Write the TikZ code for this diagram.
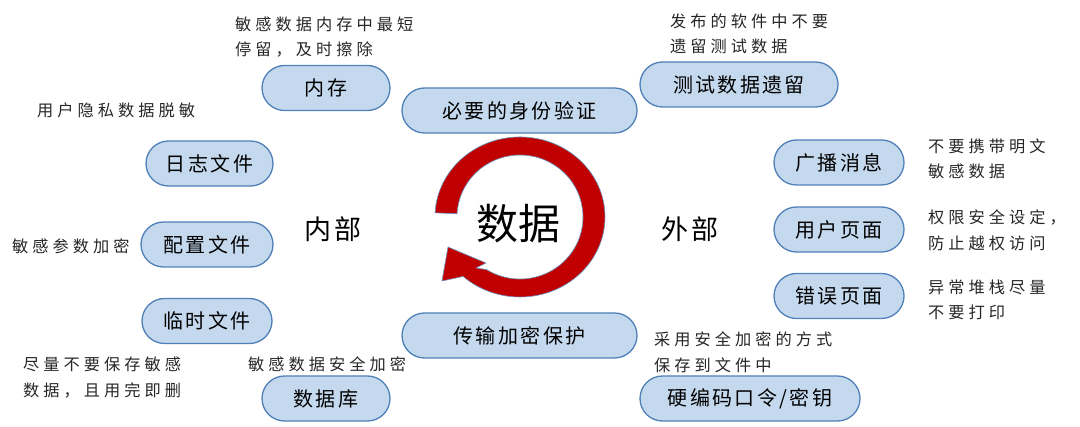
\documentclass[tikz,border=0pt]{standalone}
\usepackage{fontspec}
\newfontfamily\cjkbig{Noto Sans CJK SC}
\newfontfamily\cjkbox[LetterSpace=12]{Noto Sans CJK SC}
\newfontfamily\cjknote[LetterSpace=25]{Noto Sans CJK SC}
\newfontfamily\cjkmid[LetterSpace=10]{Noto Sans CJK SC}
\usetikzlibrary{shapes.misc}
\definecolor{boxfill}{HTML}{C5D9EE}
\definecolor{boxedge}{HTML}{4F80B8}
\definecolor{ringred}{HTML}{C00000}
\definecolor{ringedge}{HTML}{6A93C6}
\definecolor{notegray}{HTML}{262626}
\tikzset{
  pill/.style={rounded rectangle, draw=boxedge, fill=boxfill, line width=1.3pt,
    minimum height=45pt, inner sep=0pt, text=black,
    font=\cjkbox\fontsize{20}{22}\selectfont},
  note/.style={anchor=west, align=left, inner sep=0pt, text=notegray,
    font=\cjknote\fontsize{16.2}{25.5}\selectfont},
  side/.style={inner sep=0pt, text=black, font=\cjkmid\fontsize{27}{30}\selectfont},
}
\begin{document}
\begin{tikzpicture}[x=1pt,y=1pt]
\useasboundingbox (0,0) rectangle (1080,-427);
% boxes
\node[pill, minimum width=128pt] (mem) at (326,-88) {内存};
\node[pill, minimum width=235pt] (auth) at (519.5,-110.5) {必要的身份验证};
\node[pill, minimum width=198pt] (test) at (739,-84.5) {测试数据遗留};
\node[pill, minimum width=127pt] (log) at (209.5,-163.5) {日志文件};
\node[pill, minimum width=132pt] (conf) at (207,-244.5) {配置文件};
\node[pill, minimum width=130pt] (tmp) at (207,-321) {临时文件};
\node[pill, minimum width=235pt] (trans) at (519.5,-335.5) {传输加密保护};
\node[pill, minimum width=128pt] (db) at (326,-398.5) {数据库};
\node[pill, minimum width=130pt] (bcast) at (839,-162.5) {广播消息};
\node[pill, minimum width=130pt] (user) at (839,-229.5) {用户页面};
\node[pill, minimum width=130pt] (err) at (839,-296) {错误页面};
\node[pill, minimum width=220pt] (hard) at (750,-398.5) {硬编码口令/密钥};
% notes
\node[note] (memnote) at (235,-37) {敏感数据内存中最短\\停留，及时擦除};
\node[note] (testnote) at (670,-34) {发布的软件中不要\\遗留测试数据};
\node[note] (lognote) at (37,-110) {用户隐私数据脱敏};
\node[note] (confnote) at (12,-246) {敏感参数加密};
\node[note] (tmpnote) at (23,-377.5) {尽量不要保存敏感\\数据，且用完即删};
\node[note] (dbnote) at (248,-364) {敏感数据安全加密};
\node[note] (hardnote) at (654,-352.5) {采用安全加密的方式\\保存到文件中};
\node[note] (bcastnote) at (928,-159) {不要携带明文\\敏感数据};
\node[note] (usernote) at (928,-230.5) {权限安全设定，\\防止越权访问};
\node[note] (errnote) at (928,-300) {异常堆栈尽量\\不要打印};
% inner / outer
\node[side] (inner) at (333,-229) {内部};
\node[side] (outer) at (690,-229) {外部};
% ring arrow
\filldraw[fill=ringred, draw=ringedge, line width=0.6pt, line join=round]
  (435.1,-212.8) arc[start angle=177, end angle=-132, x radius=85pt, y radius=80pt]
  -- (442,-281) -- (448,-247) -- (486,-263) -- (476,-268) -- (486.6,-269.6)
  arc[start angle=-122, end angle=177, x radius=63pt, y radius=62pt] -- cycle;
\node[inner sep=0pt, text=black, font=\cjkbig\fontsize{42}{46}\selectfont] (data) at (518,-224) {数据};
\end{tikzpicture}
\end{document}
